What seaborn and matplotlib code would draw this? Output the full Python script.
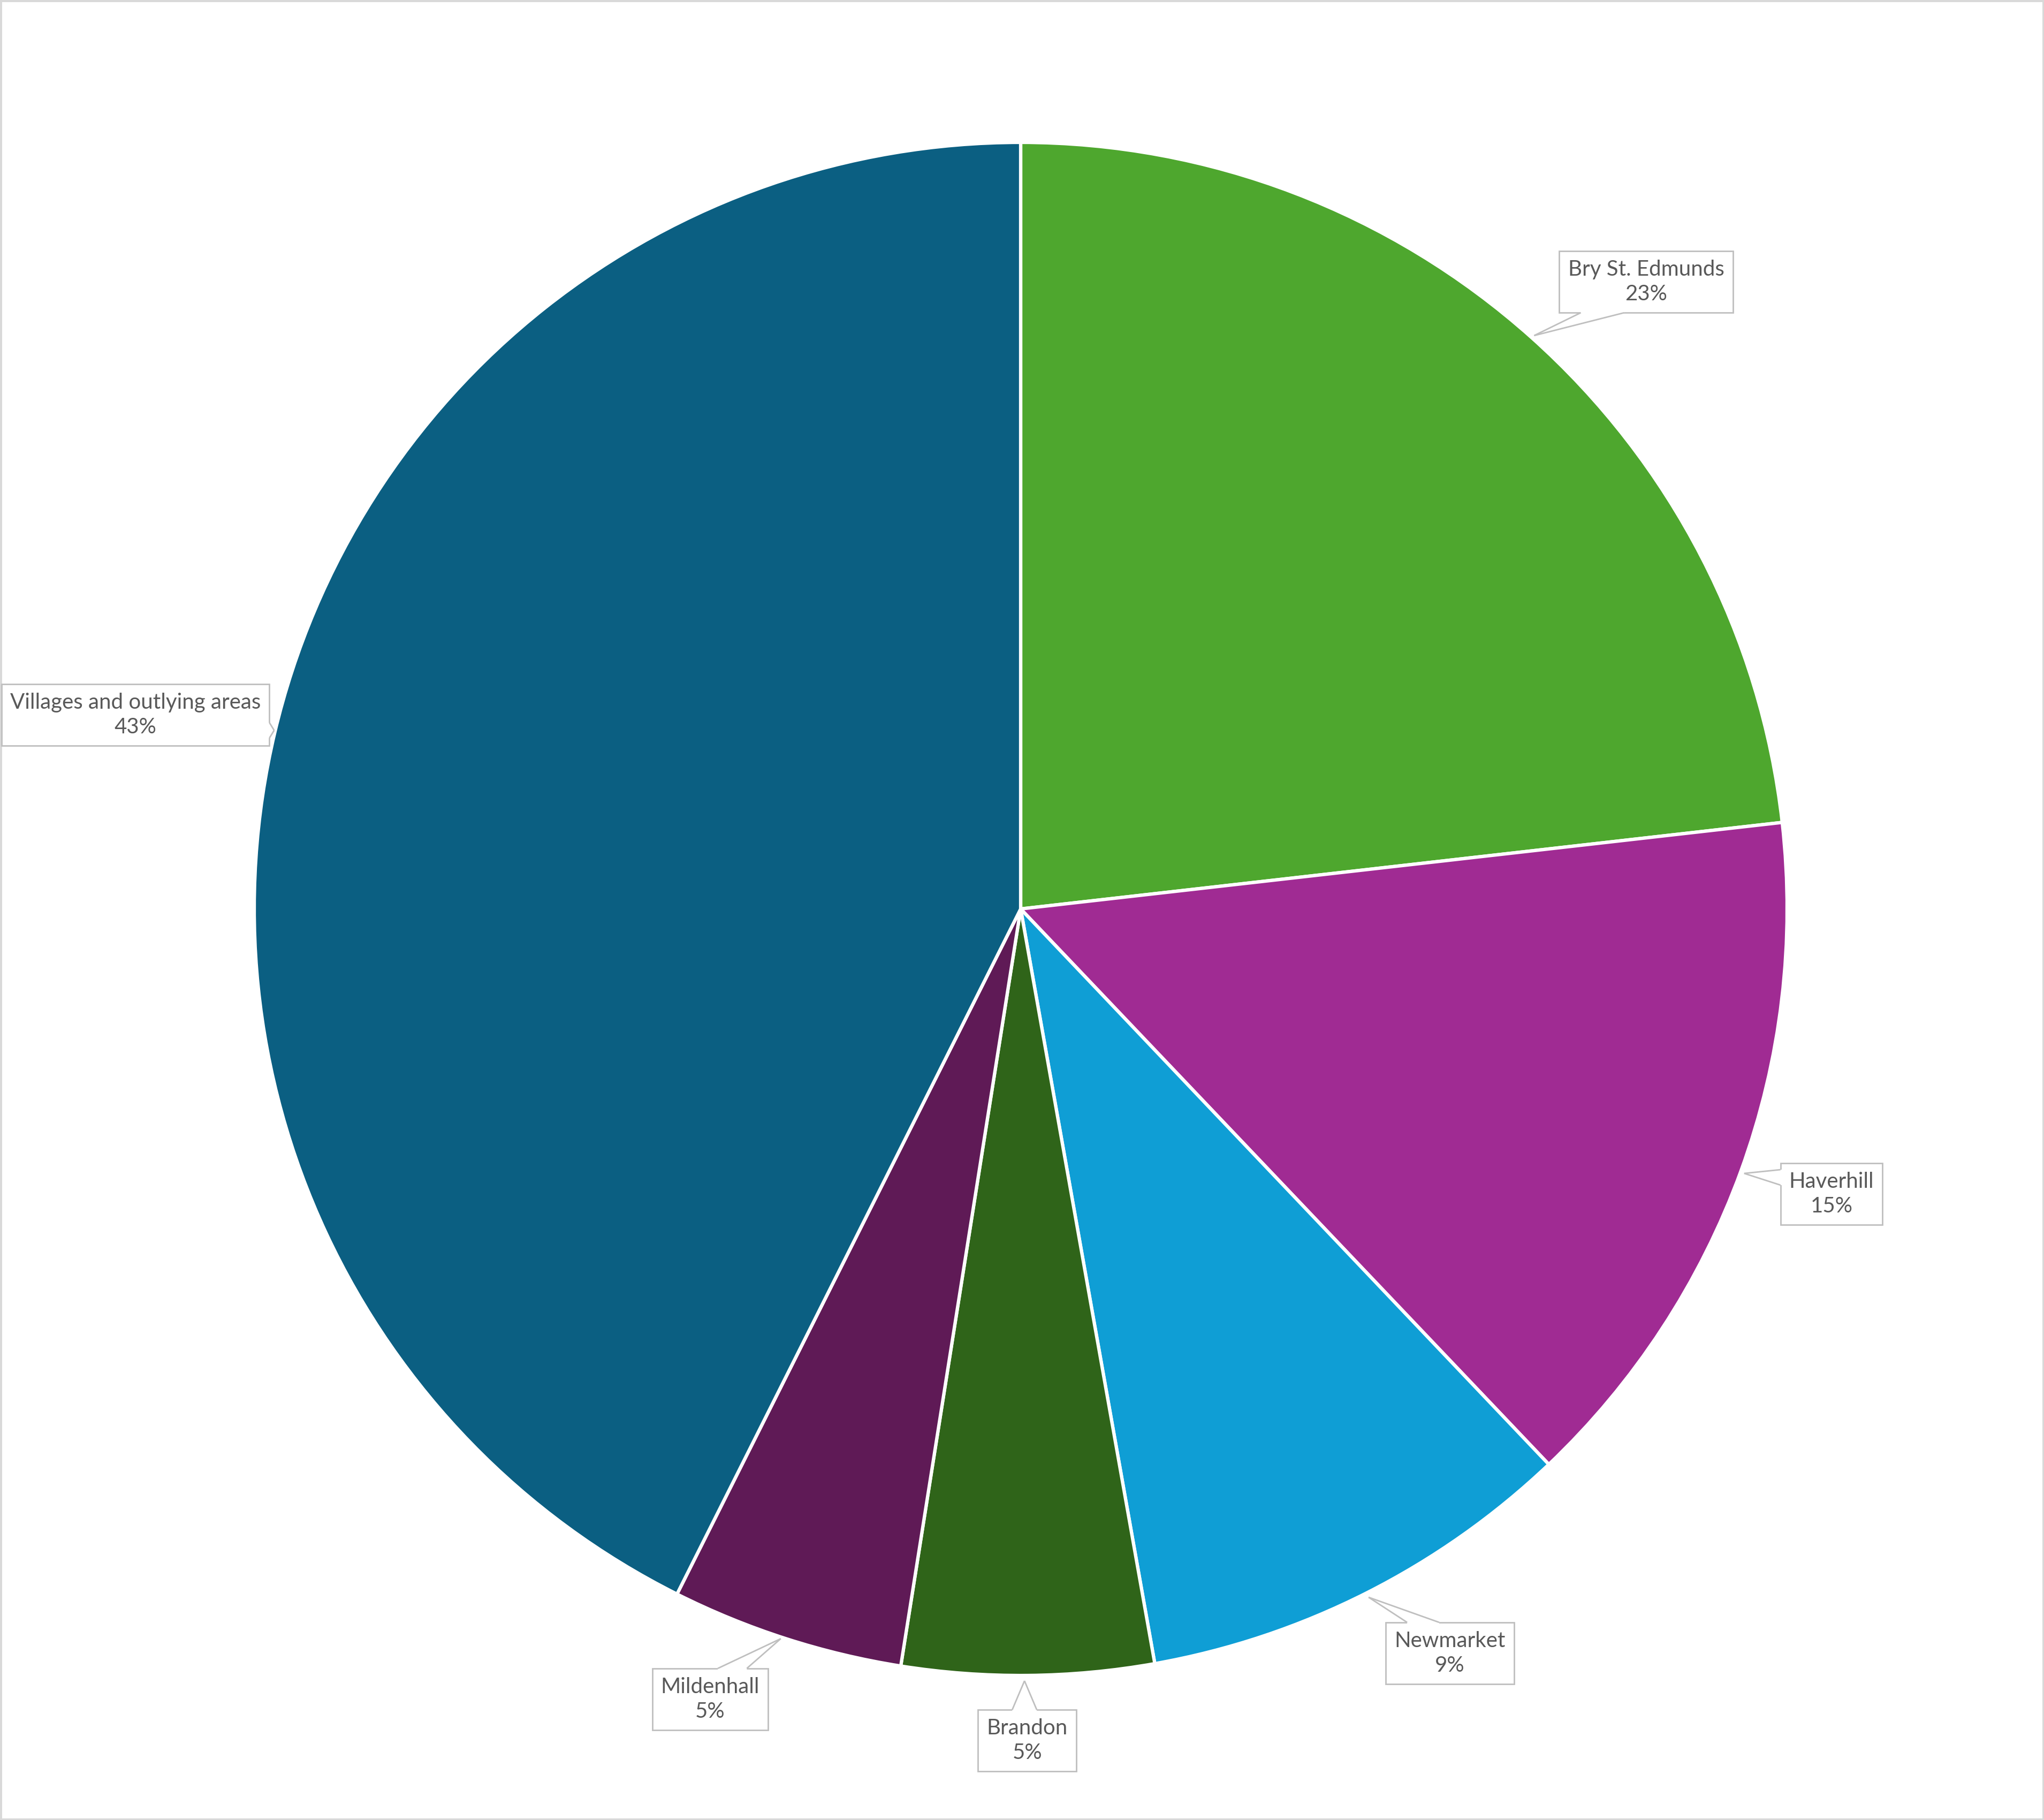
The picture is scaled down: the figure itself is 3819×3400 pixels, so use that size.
import matplotlib
matplotlib.use("Agg")
import matplotlib.pyplot as plt
from matplotlib.patches import Polygon
from matplotlib.lines import Line2D
import seaborn as sns

categories = ["Bry St. Edmunds", "Haverhill", "Newmarket", "Brandon", "Mildenhall", "Villages and outlying areas"]
shares = [23.2, 14.7, 9.3, 5.3, 4.9, 42.6]
colors = ["#4EA72E", "#A02B93", "#0F9ED5", "#2F6419", "#5F1A56", "#0B5F82"]

# label box centres and pointer tips (data coords, pie radius = 1)
label_pos = [(0.816, 0.818), (1.058, -0.372), (0.560, -0.971), (0.0085, -1.085), (-0.405, -1.031), (-1.155, 0.253)]
tip_pos = [(0.670, 0.748), (0.944, -0.345), (0.454, -0.898), (0.005, -1.007), (-0.313, -0.952), (-0.974, 0.233)]

sns.set_theme(style="white")
plt.rcParams["font.family"] = ["Lato", "DejaVu Sans"]

W, H = 3819, 3400
fig = plt.figure(figsize=(W / 100, H / 100), dpi=100, facecolor="white",
                 edgecolor="#D9D9D9", linewidth=5)
cx, cy, r = 1907, 1698, 1432
ax = fig.add_axes([(cx - r) / W, (H - cy - r) / H, 2 * r / W, 2 * r / H])
ax.axis("off")

pal = sns.color_palette(colors)
ax.pie(shares, colors=pal, startangle=90, counterclock=False, radius=1,
       wedgeprops=dict(edgecolor="white", linewidth=4.5), frame=False)
ax.set_xlim(-1, 1)
ax.set_ylim(-1, 1)
ax.set_aspect("auto")

EDGE = "#BFBFBF"
texts = []
for cat, v, (lx, ly) in zip(categories, shares, label_pos):
    t = ax.text(lx, ly, f"{cat}\n{v:.0f}%", ha="center", va="center",
                fontsize=29, color="#595959", linespacing=1.3, zorder=3,
                bbox=dict(boxstyle="square,pad=0.4", fc="white", ec=EDGE, lw=2))
    texts.append(t)

fig.canvas.draw()
renderer = fig.canvas.get_renderer()
inv = ax.transData.inverted()


def clamp(val, lo, hi):
    if lo > hi:
        return (lo + hi) / 2
    return max(lo, min(hi, val))


for t, tip in zip(texts, tip_pos):
    bb = t.get_bbox_patch().get_window_extent(renderer)
    tx, ty = ax.transData.transform(tip)
    margin = 40
    inset = 4
    if bb.y0 <= ty <= bb.y1:
        # side edge
        length = bb.height
        w = max(28, 0.25 * length)
        c = clamp(ty, bb.y0 + margin * 0.3 + w / 2, bb.y1 - margin * 0.3 - w / 2)
        if tx < bb.x0:
            x = bb.x0
            xi = x + inset
        else:
            x = bb.x1
            xi = x - inset
        p1, p2 = (x, c - w / 2), (x, c + w / 2)
        q1, q2 = (xi, c - w / 2), (xi, c + w / 2)
    else:
        length = bb.width
        w = max(28, 0.25 * length)
        c = clamp(tx, bb.x0 + margin + w / 2, bb.x1 - margin - w / 2)
        if ty < bb.y0:
            y = bb.y0
            yi = y + inset
        else:
            y = bb.y1
            yi = y - inset
        p1, p2 = (c - w / 2, y), (c + w / 2, y)
        q1, q2 = (c - w / 2, yi), (c + w / 2, yi)
    pts = [inv.transform(p) for p in ((tx, ty), p1, q1, q2, p2)]
    ax.add_patch(Polygon(pts, closed=True, fc="white", ec="none", zorder=4, clip_on=False))
    tipd, p1d, p2d = pts[0], pts[1], pts[4]
    for pd in (p1d, p2d):
        ax.add_line(Line2D([tipd[0], pd[0]], [tipd[1], pd[1]], color=EDGE, lw=2,
                           zorder=5, clip_on=False, solid_capstyle="butt"))

fig.savefig("out.png", dpi=100)
